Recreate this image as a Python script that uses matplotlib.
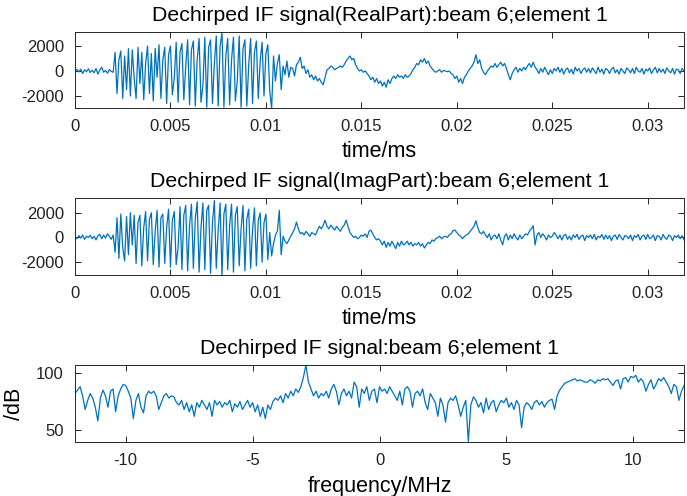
import matplotlib
matplotlib.use("Agg")
import matplotlib.pyplot as plt
import numpy as np

plt.rcParams["font.family"] = ["Liberation Sans", "DejaVu Sans"]
plt.rcParams["axes.unicode_minus"] = False

# sampled dechirped IF signal, 0 .. 0.032 ms, one value per 0.0001 ms
t_start, t_end = 0.0, 0.032
real_part = [
    0, 120, -80, 150, -200, 100, -60, 180, -120, 60,
    -150, 200, -250, 80, 300, -100, 50, -180, 120, -40,
    -100, 1500, -1800, 900, 1600, -2200, 1200, -1500, 1800, -2000,
    1700, -600, -2200, 1900, -1000, 1500, -2300, 600, 2000, -1800,
    1400, -2400, 1800, -500, 2100, -2200, 900, 1900, -2600, 1300,
    2000, -1900, -600, 2300, -2500, 1500, 2200, -2300, 400, 2500,
    -2700, 1700, 2400, -2800, 900, 2600, -2500, -1200, 2700, -2900,
    1900, 2500, -2600, 600, 2800, -2800, 2000, 3100, -2900, 1200,
    2600, -2700, 900, 2700, -2400, -800, 2800, -2900, 1800, 2500,
    -2800, 500, 2600, -2600, 1500, 2400, -2200, 800, 2300, -2000,
    1400, 2100, -1600, -3000, 1200, -800, 600, 1300, -1500, 400,
    -300, 800, -500, 300, 200, -400, 500, 700, 1100, 200,
    400, -200, 100, -500, -300, -700, -400, -800, -600, -900,
    -1100, -500, 100, 200, 400, 300, 100, 200, 300, 400,
    300, 500, 800, 1000, 1200, 900, 1000, 500, 200, 0,
    100, -100, 0, -200, -400, -700, -500, -900, -600, -1000,
    -800, -1200, -900, -1300, -700, -1000, -600, -400, -600, -300,
    -500, -400, -600, -300, -500, -400, -200, 100, 300, 600,
    500, 900, 700, 1000, 600, 800, 400, 200, 0, -100,
    0, 100, -100, 50, 0, -50, 0, -200, -300, -600,
    -400, -900, -600, -1000, -500, -300, 0, 200, 400, 700,
    1300, 600, 900, 200, -100, -300, 0, 200, 400, 300,
    600, 300, 500, 700, 400, 600, 200, -300, -700, -200,
    100, 300, -100, 200, 0, 300, 100, 400, 600, 300,
    700, 300, 100, -200, 200, -100, 300, 0, -300, 100,
    -200, 200, 0, 300, -100, 200, -250, 100, 250, -150,
    150, -250, 300, 0, 200, -200, 100, 250, -100, 200,
    -150, 250, 0, -200, 300, -100, 150, -250, 200, 100,
    -200, 150, 300, -150, 100, -250, 200, 0, -200, 250,
    100, -150, 200, -200, 300, 0, -100, 200, -250, 150,
    0, 250, -200, 100, 300, -150, 200, -100, 150, -200,
    250, 0, -150, 200, -250, 150, 100, -200, 200, 0,
    100,
]
imag_part = [
    50, -100, 150, -50, 200, -150, 100, 0, 180, -100,
    100, -200, 150, 250, -100, 200, -50, 300, 100, -150,
    200, -1200, 1600, -1700, 1900, -800, -1900, 1700, -1400, 2000,
    -600, 1800, -2100, 1200, 1800, -2300, 800, 2100, -1900, 1500,
    2000, -2200, 500, 2200, -2400, 1600, 1900, -2100, 800, 2300,
    -2400, 1400, 2100, -2200, -800, 2500, -2600, 1800, 2600, -2700,
    1000, 2700, -2500, 1500, 2900, -2800, 800, 2800, -2600, 2200,
    2600, -2900, 1200, 3000, -2500, 600, 2800, -3100, 1900, 2700,
    -2600, 1000, 2700, -2800, 1800, 2500, -2300, 700, 2600, -2700,
    1500, 2300, -2500, 600, 2400, -2300, 1400, 2000, -2000, 1200,
    1900, -1800, 400, -1500, -500, 200, 500, 2200, -1400, 100,
    -300, -500, -200, 100, 400, 700, 1250, 700, 300, 400,
    200, 500, 300, 100, 400, 300, 200, 600, 900, 700,
    1000, 1400, 900, 700, 1000, 800, 600, 900, 700, 500,
    800, 1000, 1400, 900, 400, 200, 0, 100, -100, 0,
    200, 100, 300, 0, 500, 600, 300, 0, -200, -100,
    -300, -600, -300, -800, -400, -700, -300, -600, -900, -400,
    -700, -300, -600, -500, -300, -600, -400, -700, -500, -600,
    -400, -700, -500, -850, -600, -400, -500, -200, -300, -100,
    0, 100, -100, 50, 100, 0, 200, 300, 550, 600,
    400, 200, 100, -100, 100, 200, 300, 500, 700, 900,
    1350, 800, 400, 300, 500, 200, 0, 300, -200, 100,
    200, -100, 300, -200, -600, 100, 300, -200, 200, -100,
    300, 0, -200, 200, -100, 100, 300, 200, 500, 700,
    950, -600, 200, 400, 0, 300, 100, -200, 200, 0,
    100, 400, 200, -100, 200, -200, 150, 250, -150, 100,
    -200, 200, 0, 250, -150, 100, 200, -250, 150, 0,
    200, -100, 250, -200, 100, 0, 250, -150, 200, -100,
    150, -250, 100, 200, -150, 250, 0, -200, 150, 100,
    -100, 200, -250, 150, 0, 250, -200, 100, 200, -150,
    250, -100, 0, 200, -250, 150, 100, -200, 250, 0,
    -150, 200, 100, -250, 150, 0, 200, -100, 150, -200,
    100,
]

# spectrum, -12 .. 12 MHz, one value per 0.1 MHz
f_start, f_end = -12.0, 12.0
spectrum_db = [
    82, 85, 88, 80, 68, 76, 82, 78, 70, 58,
    78, 85, 80, 70, 84, 86, 66, 80, 86, 90,
    89, 84, 78, 60, 76, 82, 70, 65, 80, 84,
    82, 84, 80, 68, 74, 80, 82, 78, 80, 79,
    74, 72, 76, 68, 74, 66, 72, 62, 74, 70,
    76, 72, 68, 74, 62, 76, 72, 75, 70, 74,
    72, 76, 66, 73, 70, 75, 68, 72, 76, 70,
    74, 66, 72, 62, 70, 60, 72, 68, 75, 78,
    76, 80, 74, 82, 78, 84, 80, 86, 83, 88,
    96, 107, 92, 86, 80, 84, 78, 82, 80, 84,
    78, 86, 90, 84, 72, 82, 86, 80, 84, 78,
    92, 88, 70, 86, 82, 88, 76, 84, 86, 74,
    88, 84, 86, 82, 88, 84, 80, 76, 84, 72,
    86, 88, 84, 70, 82, 84, 80, 86, 74, 68,
    82, 78, 74, 62, 78, 72, 57, 74, 78, 76,
    80, 72, 62, 70, 76, 40, 72, 79, 76, 70,
    74, 65, 78, 68, 74, 76, 66, 72, 76, 74,
    78, 70, 74, 68, 76, 72, 52, 70, 74, 72,
    68, 74, 76, 72, 75, 70, 74, 76, 77, 68,
    80, 85, 88, 91, 92, 93, 94, 95, 93, 94,
    93, 92, 92, 94, 93, 91, 94, 93, 95, 94,
    95, 92, 89, 93, 94, 86, 95, 96, 92, 97,
    96, 98, 92, 95, 92, 84, 90, 94, 86, 90,
    95, 93, 96, 92, 88, 82, 90, 88, 76, 84,
    89,
]

time_ticks = [0, 0.005, 0.01, 0.015, 0.02, 0.025, 0.03]
time_labels = ["0", "0.005", "0.01", "0.015", "0.02", "0.025", "0.03"]
amp_ticks = [-2000, 0, 2000]
freq_ticks = [-10, -5, 0, 5, 10]
db_ticks = [50, 100]

line_color = "#0072BD"
W, H = 687, 496
TITLE_FS = 15.3
LABEL_FS = 15.5


def style_axes(ax):
    for s in ax.spines.values():
        s.set_color("#262626")
        s.set_linewidth(0.7)
    ax.tick_params(direction="in", top=True, right=True, length=4,
                   width=0.7, labelsize=12, colors="#262626",
                   labelcolor="#222222", pad=8)


fig = plt.figure(figsize=(W / 100, H / 100), dpi=100)


def make_ax(top_px, bottom_px):
    return fig.add_axes([75 / W, 1 - bottom_px / H, 609 / W,
                         (bottom_px - top_px) / H])


t_real = np.linspace(t_start, t_end, len(real_part))
t_imag = np.linspace(t_start, t_end, len(imag_part))
freqs = np.linspace(f_start, f_end, len(spectrum_db))

ax1 = make_ax(32, 108)
ax1.plot(t_real, real_part, color=line_color, lw=0.9)
ax1.set_xlim(0, 0.0319)
ax1.set_ylim(-2960, 3120)
ax1.set_xticks(time_ticks, time_labels)
ax1.set_yticks(amp_ticks)
ax1.set_title("Dechirped IF signal(RealPart):beam 6;element 1",
              fontsize=TITLE_FS, pad=8)
ax1.set_xlabel("time/ms", fontsize=LABEL_FS, labelpad=5)
style_axes(ax1)

ax2 = make_ax(198, 275)
ax2.plot(t_imag, imag_part, color=line_color, lw=0.9)
ax2.set_xlim(0, 0.0319)
ax2.set_ylim(-3040, 3200)
ax2.set_xticks(time_ticks, time_labels)
ax2.set_yticks(amp_ticks)
ax2.set_title("Dechirped IF signal(ImagPart):beam 6;element 1",
              fontsize=TITLE_FS, pad=8)
ax2.set_xlabel("time/ms", fontsize=LABEL_FS, labelpad=5)
style_axes(ax2)

ax3 = make_ax(365, 442)
ax3.plot(freqs, spectrum_db, color=line_color, lw=0.9)
ax3.set_xlim(-12, 12)
ax3.set_ylim(39.5, 107)
ax3.set_xticks(freq_ticks)
ax3.set_yticks(db_ticks)
ax3.set_title("Dechirped IF signal:beam 6;element 1", fontsize=TITLE_FS, pad=8)
ax3.set_xlabel("frequency/MHz", fontsize=LABEL_FS, labelpad=6)
ax3.set_ylabel("/dB", fontsize=LABEL_FS, labelpad=8)
style_axes(ax3)

fig.savefig("out.png", dpi=100, facecolor="white")
